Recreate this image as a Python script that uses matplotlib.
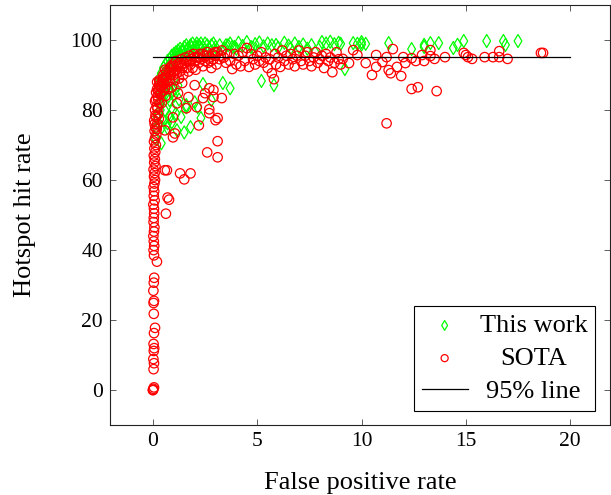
import matplotlib
matplotlib.use("Agg")
import matplotlib.pyplot as plt

# ---------------- data ----------------
# "This work" (green diamonds)
work_x = [
    0.10, 0.15, 0.20, 0.24, 0.30, 0.35, 0.43, 0.50, 0.57, 0.60, 0.70, 0.80, 0.70, 0.90,
    1.15, 1.50, 1.60, 2.00, 2.30, 2.40, 2.80, 3.35, 3.70, 5.20, 5.80, 9.20, 1.80, 2.15,
    1.60, 0.80, 1.00, 1.20, 0.70, 0.40,
    0.30, 0.35, 0.45, 0.55, 0.65, 0.75, 0.85, 0.95, 1.05, 1.25, 1.35, 0.50, 0.90, 1.10,
    0.25, 0.30, 0.40, 0.50, 0.60, 0.70, 0.80, 0.90, 1.00, 1.10, 1.20, 1.30, 1.40, 1.50,
    1.60, 1.70, 1.80, 1.90, 2.00, 2.10, 2.20, 2.30, 2.40, 2.50, 2.60, 2.70, 2.80, 2.90,
    3.00, 3.20, 3.40, 3.60, 3.80,
    0.50, 0.60, 0.70, 0.80, 0.90, 1.00, 1.10, 1.30, 1.50, 1.70, 2.00, 2.30, 2.60, 3.00,
    0.35, 0.45, 0.55, 0.65, 0.75, 0.85, 0.95, 1.05, 1.25, 1.45, 1.65, 1.85, 2.05, 2.25,
    3.50, 3.70, 3.90, 4.10, 4.30, 4.50, 4.70, 4.90, 5.10, 5.30, 5.50, 5.70, 6.00, 6.30,
    6.50, 6.80, 7.00, 7.20, 7.60, 8.10, 8.30, 8.50, 8.70, 8.90, 9.00, 4.00, 4.80, 5.90,
    6.60, 7.40, 8.00,
    9.60, 9.80, 10.0, 10.0, 10.2, 11.3, 12.4, 13.0, 13.0, 13.3, 13.7, 14.4, 14.6, 14.9,
    16.0, 16.8, 16.9, 17.5,
]
work_y = [
    72.0, 75.0, 78.0, 79.1, 82.0, 84.0, 75.1, 86.0, 79.9, 88.0, 76.2, 82.8, 90.0, 85.0,
    74.2, 73.6, 81.4, 82.2, 77.7, 87.4, 82.8, 87.7, 86.2, 88.3, 87.1, 91.7, 75.1, 80.8,
    80.8, 78.0, 84.0, 87.0, 74.8, 70.5,
    76.0, 80.0, 83.0, 85.0, 87.0, 84.0, 88.0, 80.0, 86.0, 83.0, 78.0, 77.0, 76.5, 79.0,
    87.0, 89.0, 90.5, 92.0, 93.0, 94.0, 94.5, 95.5, 96.0, 96.5, 97.0, 97.5, 97.0, 98.0,
    98.5, 97.5, 98.5, 99.0, 98.0, 99.0, 98.5, 99.0, 98.0, 99.0, 98.5, 97.5, 98.5, 99.0,
    98.0, 98.5, 97.5, 98.5, 98.0,
    89.0, 90.5, 91.5, 92.0, 93.0, 93.5, 94.5, 95.5, 96.0, 96.5, 97.0, 97.5, 97.0, 97.0,
    86.0, 88.0, 89.5, 91.0, 92.5, 93.5, 94.5, 95.0, 96.0, 97.0, 97.5, 97.8, 98.2, 98.0,
    98.5, 99.0, 98.0, 99.2, 98.3, 99.4, 98.0, 98.8, 99.3, 98.2, 99.0, 98.5, 97.8, 99.2,
    98.4, 99.0, 98.0, 98.7, 98.5, 99.4, 99.0, 99.5, 98.8, 99.2, 98.9, 97.5, 97.8, 98.6,
    97.6, 97.5, 98.0,
    99.1, 98.9, 99.4, 98.7, 98.9, 99.1, 97.4, 98.6, 98.0, 99.1, 99.1, 97.7, 98.6, 99.7,
    99.7, 99.7, 98.6, 99.7,
]

# "SOTA" (red circles)
sota_x = [
    0.00, 0.02, 0.05, 0.00, 0.03, 0.05, 0.02, 0.04, 0.06, 0.03, 0.05, 0.10, 0.04, 0.03,
    0.05, 0.02, 0.04, 0.06, 0.19, 0.05, 0.03, 0.06, 0.04, 0.02, 0.05, 0.07, 0.03, 0.04,
    0.06, 0.62, 0.05, 0.02, 0.08, 0.77, 0.04, 0.06, 0.03, 0.07, 0.10, 0.05, 0.08, 0.03,
    0.12, 0.06, 0.09, 0.04, 0.11, 0.07, 0.14, 0.05, 0.10, 0.16, 0.08, 0.12, 0.20, 0.06,
    0.15, 0.25, 0.10, 0.18, 0.30, 0.14, 0.22, 0.35, 0.20, 0.28, 0.45, 0.30, 0.50,
    0.15, 0.20, 0.25, 0.10, 0.30, 0.12, 0.22, 0.08, 0.18, 0.28,
    0.67, 1.30, 1.80, 1.50, 0.70, 0.57, 0.96, 2.60, 3.10, 3.10,
    1.40, 2.00, 2.70, 1.70, 2.50, 2.90, 3.30, 1.60, 2.10, 2.70, 3.10, 2.20, 1.15, 0.57,
    1.05, 0.96, 1.20, 0.57, 2.40, 2.90, 2.70, 3.00,
    0.35, 0.40, 0.42, 0.45, 0.50, 0.50, 0.55, 0.60, 0.60, 0.65, 0.70, 0.72, 0.75, 0.80,
    0.80, 0.85, 0.90, 0.90, 0.95, 1.00, 1.00, 1.05, 1.10, 1.10, 1.15, 1.20, 1.25, 1.30,
    1.30, 1.35, 1.40, 1.45, 1.50, 1.55, 1.60, 1.65, 1.70, 1.75, 1.80, 1.85, 1.90, 1.95,
    2.00, 2.05, 2.10, 2.20, 2.25, 2.30, 2.40, 2.45, 2.50, 2.60, 2.65, 2.70, 2.80, 2.85,
    2.90, 3.00, 3.05, 3.10, 3.20, 3.30, 3.40, 3.50, 3.55,
    0.38, 0.48, 0.58, 0.68, 0.78, 0.88, 0.98, 1.18, 1.38, 1.58, 1.78, 1.98, 2.18, 2.38,
    2.58, 2.78, 2.98, 3.25, 0.25, 0.32,
    3.70, 3.80, 3.90, 4.00, 4.10, 4.20, 4.30, 4.40, 4.50, 4.60, 4.70, 4.80, 4.90, 5.00,
    5.10, 5.20, 5.30, 5.40, 5.50, 5.60, 5.70, 5.80, 5.85, 5.90, 6.00, 6.10, 6.20, 6.30,
    6.40, 6.50, 6.60, 6.70, 6.80, 6.90, 7.00, 7.10, 7.20, 7.30, 7.40, 7.50, 7.60, 7.70,
    7.80, 7.90, 8.00, 8.10, 8.20, 8.30, 8.40, 8.50, 8.60, 8.70, 8.80, 8.90, 9.00,
    9.10, 9.40, 9.60, 9.80, 10.2, 10.5, 10.7, 10.7, 11.0, 11.2, 11.3, 11.4, 11.5, 11.7,
    11.9, 12.0, 12.1, 12.4, 12.4, 12.7, 12.6, 12.9, 13.0, 13.3, 13.3, 13.5, 13.6, 14.0,
    14.9, 15.0, 15.1, 15.3, 15.9, 16.3, 16.6, 16.6, 17.0, 18.6, 18.7, 11.2,
]
sota_y = [
    0.1, 0.4, 0.8, 0.0, 6.0, 7.7, 8.9, 11.2, 12.0, 13.2, 16.3, 17.8, 21.8, 24.9,
    25.5, 28.4, 30.7, 32.1, 36.7, 38.5, 40.0, 41.2, 42.5, 44.0, 45.3, 46.5, 48.0, 49.2,
    50.5, 50.4, 51.8, 53.0, 54.2, 54.4, 55.5, 56.8, 58.0, 59.0, 60.0, 61.0, 62.0, 63.0,
    64.0, 65.0, 66.0, 67.0, 68.0, 69.0, 70.0, 71.0, 72.0, 73.0, 74.0, 75.0, 76.0, 77.0,
    78.0, 79.0, 80.0, 81.0, 82.0, 83.0, 84.0, 85.0, 86.0, 87.0, 87.5, 88.5, 89.0,
    85.0, 88.0, 83.0, 82.5, 86.0, 78.5, 80.5, 76.0, 74.5, 77.5,
    62.8, 61.9, 61.9, 60.2, 55.0, 62.8, 72.2, 67.9, 66.5, 71.1,
    87.7, 87.1, 86.2, 83.7, 84.8, 85.7, 83.4, 80.5, 80.8, 79.1, 77.7, 75.6, 81.9, 74.2,
    73.3, 77.9, 84.8, 86.2, 83.4, 83.7, 80.2, 77.1,
    84.5, 86.5, 82.0, 88.5, 85.5, 90.0, 87.5, 89.5, 84.0, 91.0, 88.0, 86.0, 90.5, 92.0,
    88.5, 90.0, 91.5, 86.5, 93.0, 90.0, 92.5, 88.5, 91.5, 94.0, 90.5, 92.5, 89.0, 93.5,
    91.0, 94.5, 92.0, 90.0, 93.5, 95.0, 92.0, 94.0, 91.0, 95.5, 93.0, 94.5, 92.0, 96.0,
    94.0, 91.5, 95.0, 93.5, 96.0, 94.5, 92.5, 95.5, 94.0, 96.5, 93.5, 95.0, 92.0, 96.0,
    94.5, 95.5, 93.0, 96.5, 94.5, 97.0, 95.0, 93.5, 96.0,
    87.0, 89.0, 91.5, 89.0, 91.0, 92.5, 91.0, 93.0, 93.0, 94.0, 94.0, 95.0, 95.0, 96.0,
    95.5, 94.0, 96.5, 95.5, 85.5, 88.0,
    94.0, 91.7, 96.0, 93.0, 95.5, 92.5, 96.5, 94.0, 97.7, 92.3, 96.0, 94.5, 93.0, 95.5,
    94.0, 96.5, 93.5, 95.0, 92.0, 94.5, 90.5, 88.8, 96.0, 93.0, 95.0, 92.3, 97.0, 94.0,
    95.5, 93.0, 96.0, 94.5, 92.5, 95.5, 97.0, 94.0, 93.0, 95.5, 96.5, 94.0, 92.5, 95.0,
    96.5, 93.5, 94.5, 95.5, 92.0, 96.0, 94.0, 95.0, 90.8, 93.5, 96.5, 94.5, 93.0,
    94.6, 93.4, 97.1, 95.7, 93.4, 90.0, 92.3, 95.7, 93.7, 95.1, 91.4, 90.5, 97.4, 92.3,
    89.7, 95.1, 93.4, 94.8, 86.0, 86.5, 94.0, 95.7, 94.0, 97.1, 95.4, 94.6, 85.4, 95.1,
    96.3, 95.7, 95.1, 94.6, 95.1, 95.1, 95.1, 96.8, 94.6, 96.3, 96.3, 76.2,
]

# 95% reference line
line_x = [0, 20]
line_y = [95, 95]

series_labels = ["This work", "SOTA", "95% line"]
x_label = "False positive rate"
y_label = "Hotspot hit rate"
x_ticks = [0, 5, 10, 15, 20]
y_ticks = [0, 20, 40, 60, 80, 100]

# ---------------- figure ----------------
plt.rcParams["font.family"] = ["Liberation Serif", "DejaVu Serif"]

fig = plt.figure(figsize=(6.11, 4.95), dpi=100)
ax = fig.add_axes([0.18, 0.141, 0.818, 0.849])

ax.scatter(work_x, work_y, marker="d", s=44, facecolors="none",
           edgecolors="#00ff00", linewidths=0.9, label=series_labels[0], zorder=2)
ax.scatter(sota_x, sota_y, marker="o", s=46, facecolors="none",
           edgecolors="#ff0000", linewidths=0.9, label=series_labels[1], zorder=3)
ax.plot(line_x, line_y, color="black", linewidth=0.9, label=series_labels[2], zorder=4)

ax.set_xlim(-2.06, 21.9)
ax.set_ylim(-10, 110)
ax.set_xticks(x_ticks)
ax.set_yticks(y_ticks)
ax.tick_params(direction="in", top=True, right=True, length=4.5, width=0.6,
               color="#444444", labelsize=15.5, pad=5)
for sp in ax.spines.values():
    sp.set_linewidth(0.8)
    sp.set_color("#222222")

ax.set_xlabel(x_label, fontsize=19, labelpad=15)
ax.set_ylabel(y_label, fontsize=19, labelpad=25)

leg = ax.legend(loc="lower right", fontsize=19, frameon=True, fancybox=False,
                edgecolor="black", framealpha=1, borderaxespad=0.55,
                handlelength=1.75, handletextpad=0.45, borderpad=0.3,
                labelspacing=0.35, markerscale=0.75)
leg.get_frame().set_linewidth(0.8)

# centre the legend labels in their column, as in the reference
fig.canvas.draw()
texts = leg.get_texts()
widths = [t.get_window_extent().width for t in texts]
wmax = max(widths)
for t, w in zip(texts, widths):
    t.set_x((wmax - w) / 2.0)

fig.savefig("out.png", dpi=100)
